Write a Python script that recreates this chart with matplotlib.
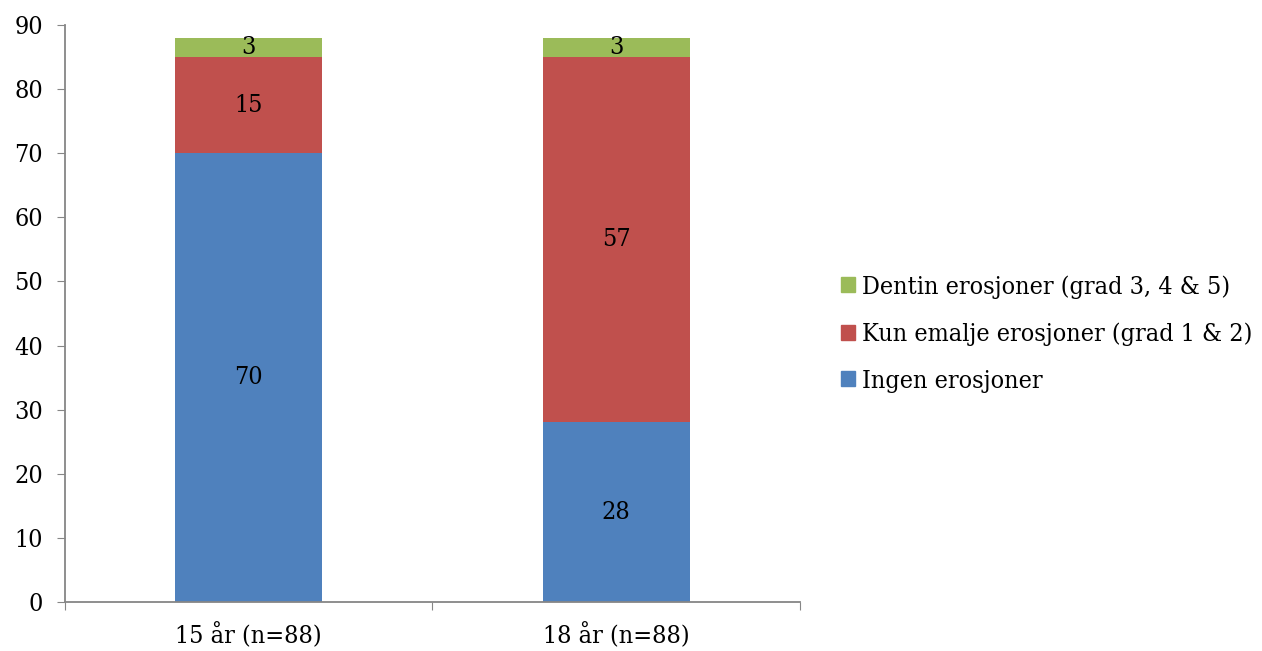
import numpy as np
import matplotlib.pyplot as plt
from matplotlib.patches import Patch

groups = ['15 år (n=88)', '18 år (n=88)']
series = ['Ingen erosjoner', 'Kun emalje erosjoner (grad 1 & 2)', 'Dentin erosjoner (grad 3, 4 & 5)']
ingen = [70, 28]
emalje = [15, 57]
dentin = [3, 3]
colors = ['#4F81BD', '#C0504D', '#9BBB59']

plt.rcParams['font.family'] = ['DejaVu Serif']
plt.rcParams['font.stretch'] = 'condensed'

fig = plt.figure(figsize=(12.62, 6.51), dpi=100)
ax = fig.add_axes([0.0515, 0.0753, 0.5824, 0.8863])

x = np.arange(len(groups))
bottom = np.zeros(len(groups))
for vals, col in zip([ingen, emalje, dentin], colors):
    bars = ax.bar(x, vals, 0.4, bottom=bottom, color=col, zorder=2)
    for b, v, b0 in zip(bars, vals, bottom):
        ax.text(b.get_x() + b.get_width() / 2, b0 + v / 2, str(v),
                ha='center', va='center', fontsize=18, color='black', zorder=3)
    bottom += np.array(vals)

ax.set_xlim(-0.5, 1.5)
ax.set_ylim(0, 90)
ax.set_yticks(range(0, 91, 10))
ax.tick_params(axis='y', labelsize=18, length=6, color='#868686', pad=10)

# category labels sit between the boundary ticks
ax.set_xticks([-0.5, 0.5, 1.5])
ax.set_xticklabels([])
ax.set_xticks(x, minor=True)
ax.set_xticklabels(groups, minor=True)
ax.tick_params(axis='x', which='major', length=6, color='#868686')
ax.tick_params(axis='x', which='minor', length=0, labelsize=18, pad=15)

for s in ['top', 'right']:
    ax.spines[s].set_visible(False)
for s in ['left', 'bottom']:
    ax.spines[s].set_color('#868686')
    ax.spines[s].set_linewidth(1.3)

handles = [Patch(color=c, label=l) for c, l in zip(colors, series)][::-1]
fig.legend(handles=handles, loc='center left', bbox_to_anchor=(0.6485, 0.487),
           frameon=False, fontsize=18, handlelength=0.55, handleheight=0.55,
           handletextpad=0.3, labelspacing=0.95)

fig.savefig('out.png', dpi=100)
